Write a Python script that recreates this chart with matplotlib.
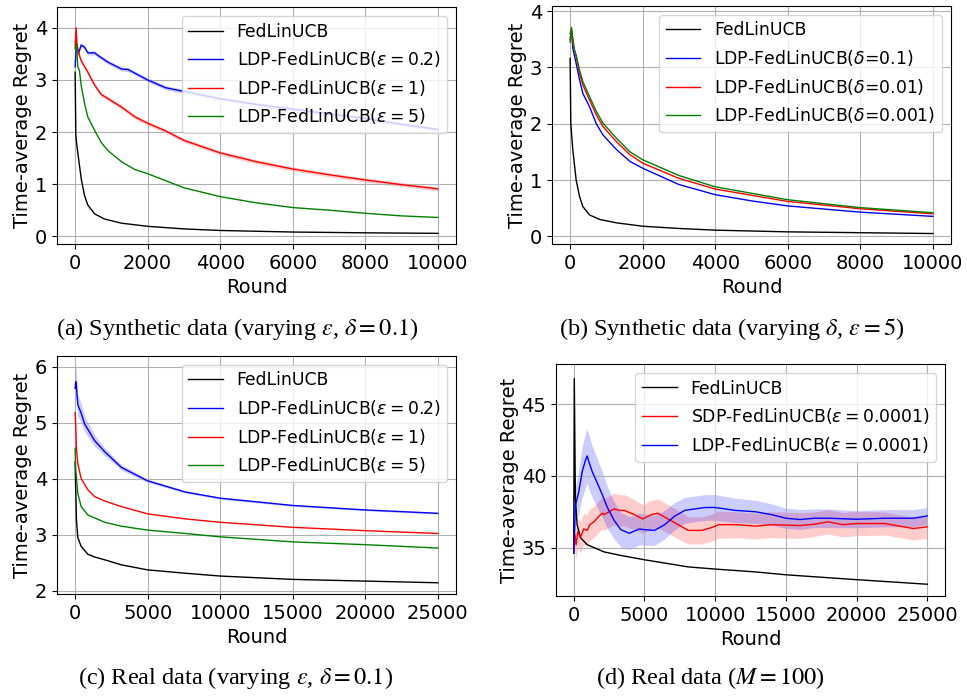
import numpy as np
import matplotlib
matplotlib.use("Agg")
import matplotlib.pyplot as plt

# ---- (a) synthetic, varying epsilon ----
a_fed_x = [1, 20, 40, 75, 170, 260, 350, 535, 810, 1280, 2000, 3000, 4000, 6000, 8000, 10000]
a_fed_y = [3.15, 1.95, 1.8, 1.6, 1.1, 0.78, 0.6, 0.43, 0.33, 0.25, 0.19, 0.14, 0.11, 0.08, 0.065, 0.055]
a_e02_x = [1, 37, 90, 167, 260, 350, 540, 630, 910, 1280, 1460, 2000, 2500, 3000,
           4000, 5000, 6000, 7000, 8000, 9000, 10000]
a_e02_y = [3.25, 3.71, 3.5, 3.67, 3.63, 3.52, 3.52, 3.47, 3.34, 3.21, 3.2, 3.0, 2.85, 2.78,
           2.64, 2.53, 2.44, 2.35, 2.26, 2.15, 2.05]
a_e1_x = [1, 28, 50, 90, 167, 350, 540, 720, 910, 1280, 1650, 2000, 2500, 3000, 4000, 5000,
          6000, 7000, 8000, 9000, 10000]
a_e1_y = [3.63, 4.0, 3.7, 3.53, 3.37, 3.15, 2.9, 2.72, 2.64, 2.48, 2.29, 2.17, 2.02, 1.84, 1.6,
          1.43, 1.29, 1.18, 1.08, 0.99, 0.91]
a_e5_x = [1, 37, 74, 120, 167, 260, 350, 540, 720, 910, 1280, 1650, 2000, 3000, 4000, 5000,
          6000, 7000, 8000, 9000, 10000]
a_e5_y = [3.6, 3.69, 3.25, 3.18, 2.9, 2.55, 2.29, 2.03, 1.8, 1.64, 1.43, 1.28, 1.2, 0.93, 0.76,
          0.64, 0.55, 0.5, 0.44, 0.39, 0.36]
a_band = 0.04

# ---- (b) synthetic, varying delta ----
b_fed_x = [1, 20, 74, 167, 260, 350, 537, 815, 1280, 2000, 3000, 4000, 6000, 8000, 10000]
b_fed_y = [3.16, 2.0, 1.54, 1.0, 0.71, 0.53, 0.38, 0.3, 0.24, 0.18, 0.14, 0.11, 0.08, 0.065, 0.05]
b_d1_x = [1, 37, 74, 167, 260, 350, 537, 720, 907, 1280, 1650, 2000, 3000, 4000, 5000, 6000,
          8000, 10000]
b_d1_y = [3.6, 3.66, 3.34, 3.07, 2.78, 2.54, 2.3, 2.0, 1.8, 1.54, 1.33, 1.21, 0.92, 0.74, 0.63,
          0.54, 0.43, 0.355]
b_d01_x = [1, 37, 74, 167, 260, 350, 537, 720, 907, 1280, 1650, 2000, 3000, 4000, 6000, 8000, 10000]
b_d01_y = [3.5, 3.69, 3.42, 3.19, 2.89, 2.69, 2.42, 2.16, 1.95, 1.68, 1.45, 1.3, 1.03, 0.84, 0.62,
           0.49, 0.40]
b_d001_x = [1, 37, 120, 167, 260, 350, 537, 720, 907, 1280, 1650, 2000, 3000, 4000, 6000, 8000, 10000]
b_d001_y = [3.45, 3.71, 3.31, 3.22, 2.95, 2.75, 2.48, 2.22, 2.01, 1.74, 1.5, 1.36, 1.08, 0.88, 0.65,
            0.51, 0.42]

# ---- (c) real data, varying epsilon ----
c_fed_x = [1, 93, 185, 417, 880, 1340, 2040, 3190, 5000, 7600, 10000, 15000, 20000, 25000]
c_fed_y = [4.3, 3.26, 2.95, 2.79, 2.65, 2.6, 2.55, 2.46, 2.37, 2.31, 2.26, 2.2, 2.17, 2.14]
c_e02_x = [1, 46, 93, 185, 417, 650, 880, 1340, 2040, 3190, 5000, 7600, 10000, 15000, 20000, 25000]
c_e02_y = [5.61, 5.73, 5.64, 5.32, 5.17, 4.98, 4.88, 4.68, 4.48, 4.2, 3.96, 3.76, 3.65, 3.52, 3.44, 3.38]
c_e02_sd = [0.3, 0.28, 0.25, 0.2, 0.17, 0.15, 0.13, 0.1, 0.07, 0.05, 0.03, 0.02, 0.02, 0.015, 0.015, 0.015]
c_e1_x = [1, 46, 93, 185, 417, 880, 1340, 2040, 3190, 5000, 7600, 10000, 15000, 20000, 25000]
c_e1_y = [5.18, 4.93, 4.54, 4.27, 4.0, 3.8, 3.68, 3.6, 3.5, 3.37, 3.28, 3.22, 3.13, 3.07, 3.02]
c_e5_x = [1, 46, 185, 417, 880, 2040, 3190, 5000, 7600, 10000, 15000, 20000, 25000]
c_e5_y = [4.54, 4.15, 3.74, 3.5, 3.35, 3.22, 3.15, 3.08, 3.02, 2.96, 2.87, 2.82, 2.76]

# ---- (d) real data, M = 100 ----
d_fed_x = [1, 40, 120, 238, 476, 952, 2140, 3330, 5000, 8100, 10000, 12860, 15000, 20000, 25000]
d_fed_y = [34.6, 46.8, 38.4, 36.6, 35.7, 35.2, 34.7, 34.45, 34.15, 33.65, 33.5, 33.3, 33.1, 32.76, 32.44]
d_sdp_x = [1, 90, 170, 290, 480, 710, 950, 1140, 1430, 1790, 2020, 2140, 2500, 2860, 3210, 3570,
           4290, 4880, 5480, 5950, 6670, 7380, 8100, 9050, 9760, 10240, 11500, 12860, 14000,
           16000, 17000, 18000, 19000, 20000, 22000, 24000, 25000]
d_sdp_y = [34.6, 35.9, 35.2, 36.1, 35.7, 36.3, 36.2, 36.6, 36.8, 37.2, 37.4, 37.3, 37.5, 37.7, 37.6,
           37.6, 37.3, 37.0, 37.3, 37.4, 37.0, 36.6, 36.2, 36.2, 36.4, 36.6, 36.6, 36.5, 36.6,
           36.54, 36.63, 36.8, 36.6, 36.68, 36.68, 36.33, 36.45]
d_sdp_sd = [0.3, 0.9, 1.0, 1.0, 1.1, 1.1, 1.1, 1.1, 1.1, 1.1, 1.1, 1.1, 1.1, 1.1, 1.1, 1.1,
            1.05, 1.0, 1.0, 1.0, 1.0, 1.0, 0.95, 0.95, 0.95, 0.95, 0.9, 0.9, 0.9,
            0.9, 0.85, 0.85, 0.85, 0.85, 0.8, 0.8, 0.8]
d_ldp_x = [1, 120, 360, 600, 830, 950, 1070, 1310, 1670, 2020, 2380, 2860, 3330, 3930, 4640, 5000,
           5710, 6430, 7140, 7860, 8570, 9290, 10000, 11400, 12860, 14000, 15000, 16000, 17000,
           18000, 20000, 22000, 24000, 25000]
d_ldp_y = [34.6, 37.96, 38.9, 40.3, 41.1, 41.4, 41.0, 40.3, 39.5, 38.7, 37.8, 36.9, 36.25, 36.0,
           36.3, 36.25, 36.2, 36.6, 37.2, 37.6, 37.7, 37.8, 37.8, 37.6, 37.5, 37.3, 37.05, 36.96,
           37.05, 37.05, 36.98, 37.05, 37.05, 37.21]
d_ldp_sd = [0.3, 1.2, 1.5, 1.8, 1.9, 1.9, 1.9, 1.8, 1.7, 1.6, 1.45, 1.3, 1.2, 1.15, 1.1, 1.1,
            1.05, 1.0, 0.95, 0.9, 0.9, 0.9, 0.9, 0.85, 0.8, 0.75, 0.7, 0.7, 0.65,
            0.65, 0.6, 0.6, 0.6, 0.6]

lw = 1.0
plt.rcParams["font.family"] = "DejaVu Sans"

fig = plt.figure(figsize=(9.67, 6.96), dpi=100)
axa = fig.add_axes([0.0589, 0.6494, 0.4126, 0.3405])
axb = fig.add_axes([0.5708, 0.6494, 0.4126, 0.3420])
axc = fig.add_axes([0.0589, 0.1466, 0.4126, 0.3420])
axd = fig.add_axes([0.5750, 0.1437, 0.4023, 0.3333])

# (a)
axa.plot(a_fed_x, a_fed_y, color="black", lw=lw, label="FedLinUCB")
axa.plot(a_e02_x, a_e02_y, color="blue", lw=lw, label=r"LDP-FedLinUCB($\varepsilon=0.2$)")
axa.fill_between(a_e02_x, np.array(a_e02_y) - a_band, np.array(a_e02_y) + a_band,
                 color="blue", alpha=0.2, lw=0)
axa.plot(a_e1_x, a_e1_y, color="red", lw=lw, label=r"LDP-FedLinUCB($\varepsilon=1$)")
axa.fill_between(a_e1_x, np.array(a_e1_y) - a_band, np.array(a_e1_y) + a_band,
                 color="red", alpha=0.2, lw=0)
axa.plot(a_e5_x, a_e5_y, color="green", lw=lw, label=r"LDP-FedLinUCB($\varepsilon=5$)")
axa.set_ylim(-0.15, 4.4)
axa.set_xticks([0, 2000, 4000, 6000, 8000, 10000])

# (b)
axb.plot(b_fed_x, b_fed_y, color="black", lw=lw, label="FedLinUCB")
axb.plot(b_d1_x, b_d1_y, color="blue", lw=lw, label=r"LDP-FedLinUCB($\delta$=0.1)")
axb.plot(b_d01_x, b_d01_y, color="red", lw=lw, label=r"LDP-FedLinUCB($\delta$=0.01)")
axb.plot(b_d001_x, b_d001_y, color="green", lw=lw, label=r"LDP-FedLinUCB($\delta$=0.001)")
axb.set_ylim(-0.136, 4.09)
axb.set_xticks([0, 2000, 4000, 6000, 8000, 10000])

# (c)
axc.plot(c_fed_x, c_fed_y, color="black", lw=lw, label="FedLinUCB")
axc.plot(c_e02_x, c_e02_y, color="blue", lw=lw, label=r"LDP-FedLinUCB($\varepsilon=0.2$)")
axc.fill_between(c_e02_x, np.array(c_e02_y) - c_e02_sd, np.array(c_e02_y) + c_e02_sd,
                 color="blue", alpha=0.2, lw=0)
axc.plot(c_e1_x, c_e1_y, color="red", lw=lw, label=r"LDP-FedLinUCB($\varepsilon=1$)")
axc.plot(c_e5_x, c_e5_y, color="green", lw=lw, label=r"LDP-FedLinUCB($\varepsilon=5$)")
axc.set_ylim(1.94, 6.19)
axc.set_xticks([0, 5000, 10000, 15000, 20000, 25000])

# (d)
axd.plot(d_fed_x, d_fed_y, color="black", lw=lw, label="FedLinUCB")
axd.plot(d_sdp_x, d_sdp_y, color="red", lw=lw, label=r"SDP-FedLinUCB($\varepsilon=0.0001$)")
axd.fill_between(d_sdp_x, np.array(d_sdp_y) - d_sdp_sd, np.array(d_sdp_y) + d_sdp_sd,
                 color="red", alpha=0.2, lw=0)
axd.plot(d_ldp_x, d_ldp_y, color="blue", lw=lw, label=r"LDP-FedLinUCB($\varepsilon=0.0001$)")
axd.fill_between(d_ldp_x, np.array(d_ldp_y) - d_ldp_sd, np.array(d_ldp_y) + d_ldp_sd,
                 color="blue", alpha=0.2, lw=0)
axd.set_ylim(31.62, 47.82)
axd.set_yticks([35, 40, 45])
axd.set_xticks([0, 5000, 10000, 15000, 20000, 25000])

for ax in (axa, axb, axc, axd):
    small = ax in (axa, axb)
    ax.set_xlim(-500 if small else -1250, 10500 if small else 26250)
    ax.grid(True, color="#b0b0b0", lw=0.8)
    ax.tick_params(labelsize=14)
    ax.set_xlabel("Round", fontsize=14)
    ax.set_ylabel("Time-average Regret", fontsize=14, labelpad=2)
    ax.legend(loc="upper right", fontsize=12.4)

cap = dict(fontsize=17.5, family="Liberation Serif", math_fontfamily="stix", ha="center", va="center")
fig.text(237 / 967, 1 - 329 / 696, r"(a) Synthetic data (varying $\varepsilon$, $\delta=0.1$)", **cap)
fig.text(732 / 967, 1 - 329 / 696, r"(b) Synthetic data (varying $\delta$, $\varepsilon=5$)", **cap)
fig.text(236 / 967, 1 - 678 / 696, r"(c) Real data (varying $\varepsilon$, $\delta=0.1$)", **cap)
fig.text(710 / 967, 1 - 678 / 696, r"(d) Real data ($M=100$)", **cap)

fig.savefig("out.png", dpi=100)
